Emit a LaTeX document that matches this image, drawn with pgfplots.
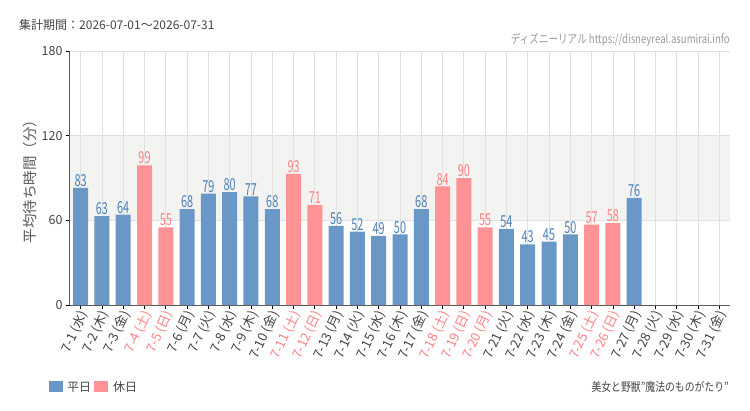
\documentclass[border=0pt]{standalone}
\usepackage{fontspec}
\setmainfont{Noto Sans CJK JP}
\usepackage{pgfplots}
\pgfplotsset{compat=1.18}
\definecolor{wk}{HTML}{6A98C6}
\definecolor{hol}{HTML}{FF9294}
\definecolor{wktxt}{HTML}{4A7FB8}
\definecolor{holtxt}{HTML}{FF7F82}
\definecolor{band}{HTML}{F3F4F2}
\definecolor{gridc}{HTML}{E0E0E0}
\definecolor{txt}{HTML}{444444}
\newcommand{\hd}[1]{\textcolor{holtxt}{#1}}
\begin{document}
\begin{tikzpicture}
\begin{axis}[
  at={(0pt,0pt)}, anchor=south west,
  scale only axis, width=660pt, height=254pt,
  set layers=standard,
  xmin=-0.5, xmax=30.5, ymin=0, ymax=180,
  axis x line*=bottom, axis y line*=left,
  axis line style={color=black!65, line width=1pt},
  ytick={0,60,120,180},
  xtick={0,...,30},
  xticklabels={7-1 (水),7-2 (木),7-3 (金),\hd{7-4 (土)},\hd{7-5 (日)},7-6 (月),7-7 (火),7-8 (水),7-9 (木),7-10 (金),\hd{7-11 (土)},\hd{7-12 (日)},7-13 (月),7-14 (火),7-15 (水),7-16 (木),7-17 (金),\hd{7-18 (土)},\hd{7-19 (日)},\hd{7-20 (月)},7-21 (火),7-22 (水),7-23 (木),7-24 (金),\hd{7-25 (土)},\hd{7-26 (日)},7-27 (月),7-28 (火),7-29 (水),7-30 (木),7-31 (金)},
  tick align=outside,
  major tick length=4pt,
  tick style={color=black, line width=0.8pt},
  /pgf/number format/assume math mode=true,
  yticklabel style={font=\fontsize{12.5}{14}\selectfont, text=txt},
  xticklabel style={font=\fontsize{13}{15}\selectfont, text=txt, rotate=65, anchor=east, inner sep=1pt, yshift=-4pt},
  xmajorgrids, ymajorgrids,
  grid style={color=gridc, line width=0.8pt},
  ylabel={平均待ち時間（分）},
  ylabel style={font=\fontsize{14.5}{16}\selectfont, text=black!65, at={(axis description cs:0,0.5)}, anchor=south, yshift=30pt},
  nodes near coords,
  nodes near coords style={font=\fontsize{16.5}{18}\selectfont, inner sep=1pt},
]
\begin{pgfonlayer}{axis background}
\fill[band] (axis cs:-0.5,60) rectangle (axis cs:30.5,120);
\end{pgfonlayer}
% weekday bars
\addplot[ybar, bar width=15pt, bar shift=0pt, fill=wk, draw=none,
  nodes near coords={\scalebox{0.66}[1]{\pgfmathprintnumber{\pgfplotspointmeta}}},
  every node near coord/.append style={text=wktxt}] coordinates {
  (0,83) (1,63) (2,64) (5,68) (6,79) (7,80) (8,77) (9,68)
  (12,56) (13,52) (14,49) (15,50) (16,68) (20,54) (21,43) (22,45) (23,50) (26,76)
};
% holiday bars
\addplot[ybar, bar width=15pt, bar shift=0pt, fill=hol, draw=none,
  nodes near coords={\scalebox{0.66}[1]{\pgfmathprintnumber{\pgfplotspointmeta}}},
  every node near coord/.append style={text=holtxt}] coordinates {
  (3,99) (4,55) (10,93) (11,71) (17,84) (18,90) (19,55) (24,57) (25,58)
};
\end{axis}
% page frame
\path (-70pt,-105pt) rectangle (680pt,305pt);
% header and footer texts
\node[anchor=base west, text=txt, font=\fontsize{12}{14}\selectfont, inner sep=0pt] at (-51pt,275pt) {集計期間：2026-07-01～2026-07-31};
\node[anchor=base east, text=gray!80, font=\fontsize{12}{14}\selectfont, inner sep=0pt] at (660pt,261pt) {\scalebox{0.8}[1]{ディズニーリアル https://disneyreal.asumirai.info}};
\node[anchor=base east, text=txt, font=\fontsize{12}{14}\selectfont, inner sep=0pt] at (659pt,-86pt) {\scalebox{0.82}[1]{美女と野獣"魔法のものがたり"}};
% legend
\fill[wk] (-21pt,-76pt) rectangle (-7pt,-87pt);
\node[anchor=base west, text=txt, font=\fontsize{12}{14}\selectfont, inner sep=0pt] at (-3pt,-86pt) {平日};
\fill[hol] (24pt,-76pt) rectangle (38pt,-87pt);
\node[anchor=base west, text=txt, font=\fontsize{12}{14}\selectfont, inner sep=0pt] at (43pt,-86pt) {休日};
\end{tikzpicture}
\end{document}
